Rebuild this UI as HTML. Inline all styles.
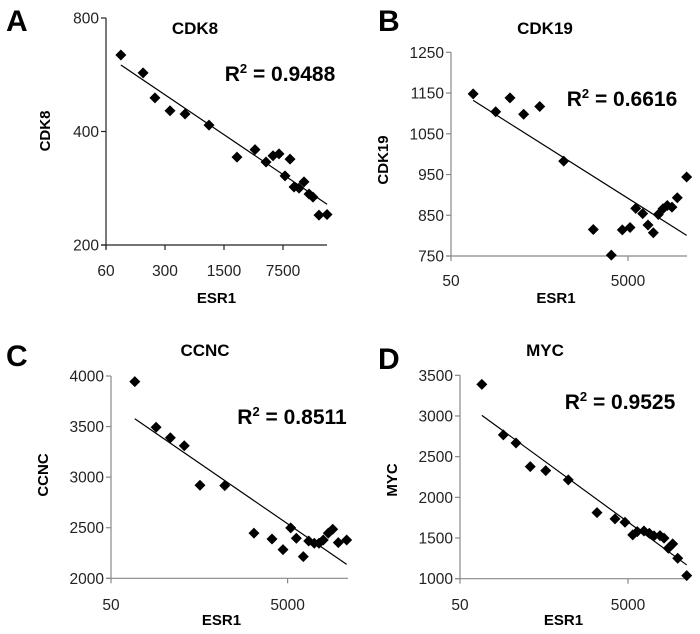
<!DOCTYPE html>
<html><head><meta charset="utf-8"><style>
html,body{margin:0;padding:0;background:#fff;}
svg{display:block;font-family:"Liberation Sans",Arial,sans-serif;}
</style></head><body>
<svg id="fig" width="700" height="634" viewBox="0 0 700 634" xmlns="http://www.w3.org/2000/svg"></svg>
<script>
// Panel A: CDK8 vs ESR1 (log-log)
const aX = [90,165,228,344,518,996,2137,3493,4719,5712,6725,9083,7924,10130,11610,13300,15250,16990,20010,24930];
const aY = [638,572,491,454,445,416,342,358,332,345,349,338,305,285,283,294,273,268,240,241];
const aXTicks = [60,300,1500,7500];
const aYTicks = [200,400,800];
// Panel B: CDK19 vs ESR1
const bX = [89,160,232,331,503,938,2027,3239,4314,5270,6110,7330,8410,9660,11000,12420,13900,15700,18030,23000];
const bY = [1148,1104,1138,1098,1117,983,815,752,814,820,867,854,826,807,852,866,874,870,893,944];
const bXTicks = [50,5000];
const bYTicks = [750,850,950,1050,1150,1250];
// Panel C: CCNC vs ESR1
const cX = [93,162,235,338,509,971,2080,3330,4435,5420,6280,7530,8670,10030,11340,12680,14450,16220,18750,23330];
const cY = [3944,3493,3389,3311,2920,2916,2446,2389,2283,2498,2396,2214,2369,2347,2347,2379,2446,2485,2353,2379];
const cXTicks = [50,5000];
const cYTicks = [2000,2500,3000,3500,4000];
// Panel D: MYC vs ESR1
const dX = [91,164,232,343,524,973,2138,3500,4603,5690,6450,7740,8960,10210,12020,13420,15100,17020,19540,25000];
const dY = [3389,2767,2668,2377,2328,2214,1812,1735,1694,1538,1579,1587,1559,1526,1529,1498,1375,1428,1252,1038];
const dXTicks = [50,5000];
const dYTicks = [1000,1500,2000,2500,3000,3500];

const NS = "http://www.w3.org/2000/svg";
const fig = document.getElementById('fig');
function mk(tag, attrs, parent, txt){
  const e = document.createElementNS(NS, tag);
  for (const k in attrs) e.setAttribute(k, attrs[k]);
  if (txt !== undefined) e.textContent = txt;
  (parent||fig).appendChild(e);
  return e;
}

function panel(p){
  const g = mk('g', {});
  
  
  const lx0 = Math.log10(p.xmin), lx1 = Math.log10(p.xmax);
  const sx = v => p.x0 + (Math.log10(v) - lx0) / (lx1 - lx0) * (p.x1 - p.x0);
  const ty = v => p.logY ? Math.log10(v) : v;
  const sy = v => p.yb + (ty(v) - ty(p.ymin)) / (ty(p.ymax) - ty(p.ymin)) * (p.yt - p.yb);
  const L = mk('text', {x:p.letterX, y:p.letterY, 'font-size':30, 'font-weight':'bold', fill:'#000'}, g, p.letter);
  
  
  const T = mk('text', {x:p.titleX, y:p.titleY, 'font-size':17, 'font-weight':'bold', 'text-anchor':'middle', fill:'#000'}, g, p.title);
  
  
  const ya = mk('line', {x1:p.x0, y1:p.yt, x2:p.x0, y2:p.yb + (p.id==='a'?4:0), stroke:p.axisColor, 'stroke-width':1.2}, g);
  
  
  const xa = mk('line', {x1:p.x0 - 5, y1:p.yb, x2:p.x1, y2:p.yb, stroke:p.axisColor, 'stroke-width':1.2}, g);
  
  
  p.yTicks.forEach(v => {
    const y = sy(v);
    const tk = mk('line', {x1:p.x0 - 5, y1:y, x2:p.x0, y2:y, stroke:p.axisColor, 'stroke-width':1.2}, g);
    
    
    const t = mk('text', {x:p.x0 - 7, y:y + 5.5, 'font-size':15.5, 'text-anchor':'end', fill:'#222'}, g, String(v));
    
    
  });
  p.xTicks.forEach(v => {
    const x = sx(v);
    const tk = mk('line', {x1:x, y1:p.yb, x2:x, y2:p.yb + 5, stroke:p.axisColor, 'stroke-width':1.2}, g);
    
    
    const t = mk('text', {x:x, y:p.xLabY, 'font-size':15.5, 'text-anchor':'middle', fill:'#222'}, g, String(v));
    
    
  });
  const xt = mk('text', {x:(p.x0 + p.x1) / 2 + p.xTitleDx, y:p.xTitleY, 'font-size':15, 'font-weight':'bold', 'text-anchor':'middle', fill:'#000'}, g, 'ESR1');
  
  
  const yt = mk('text', {x:0, y:0, 'font-size':15, 'font-weight':'bold', 'text-anchor':'middle', fill:'#000', transform:'translate(' + p.yTitleX + ',' + p.yTitleY + ') rotate(-90)'}, g, p.title);
  
  
  const lx = p.xs.map(v => Math.log10(v)), ly = p.ys.map(ty);
  const n = lx.length;
  const mx = lx.reduce((a,b)=>a+b,0)/n, my = ly.reduce((a,b)=>a+b,0)/n;
  let sxy = 0, sxx = 0;
  for (let i = 0; i < n; i++){ sxy += (lx[i]-mx)*(ly[i]-my); sxx += (lx[i]-mx)*(lx[i]-mx); }
  const slope = sxy / sxx, icpt = my - slope * mx;
  const xa0 = Math.min(...p.xs), xa1 = Math.max(...p.xs);
  const inv = t => p.logY ? Math.pow(10, t) : t;
  const fy = v => inv(icpt + slope * Math.log10(v));
  const tl = mk('line', {x1:sx(xa0), y1:sy(fy(xa0)), x2:sx(xa1), y2:sy(fy(xa1)), stroke:'#000', 'stroke-width':1.2}, g);
  
  
  for (let i = 0; i < n; i++){
    const cx = sx(p.xs[i]), cy = sy(p.ys[i]), r = 5.5;
    const d = mk('polygon', {points:[cx,cy-r, cx+r,cy, cx,cy+r, cx-r,cy].join(' '), fill:'#000'}, g);
    
    
  }
  const r2 = mk('text', {x:p.r2X, y:p.r2Y, 'font-size':21, 'font-weight':'bold', 'text-anchor':'middle', fill:'#000'}, g);
  
  
  mk('tspan', {}, r2, 'R');
  mk('tspan', {'font-size':13, dy:-8}, r2, '2');
  mk('tspan', {dy:8}, r2, ' = ' + p.r2);
}

panel({id:'a', letter:'A', letterX:6, letterY:31, title:'CDK8', titleX:195, titleY:34,
  x0:106, x1:327, xmin:60, xmax:60*Math.pow(5,221/59), yb:245, yt:18, ymin:200, ymax:800, logY:true,
  xs:aX, ys:aY, xTicks:aXTicks, yTicks:aYTicks, axisColor:'#222', xLabY:276, xTitleY:303, xTitleDx:0,
  yTitleX:50, yTitleY:131, r2X:280, r2Y:81, r2:'0.9488'});
panel({id:'b', letter:'B', letterX:378, letterY:31, title:'CDK19', titleX:545, titleY:34,
  x0:451, x1:687, xmin:50, xmax:50*Math.pow(10,236/88.5), yb:256, yt:52.3, ymin:750, ymax:1250, logY:false,
  xs:bX, ys:bY, xTicks:bXTicks, yTicks:bYTicks, axisColor:'#888', xLabY:286, xTitleY:303, xTitleDx:-13,
  yTitleX:388, yTitleY:160, r2X:622, r2Y:106, r2:'0.6616'});
panel({id:'c', letter:'C', letterX:6, letterY:366, title:'CCNC', titleX:205, titleY:356,
  x0:111, x1:348, xmin:50, xmax:50*Math.pow(10,237/88.3), yb:578.3, yt:376, ymin:2000, ymax:4000, logY:false,
  xs:cX, ys:cY, xTicks:cXTicks, yTicks:cYTicks, axisColor:'#888', xLabY:610, xTitleY:625, xTitleDx:-8,
  yTitleX:48, yTitleY:475, r2X:292, r2Y:424, r2:'0.8511'});
panel({id:'d', letter:'D', letterX:378, letterY:369, title:'MYC', titleX:545, titleY:356,
  x0:460, x1:687, xmin:50, xmax:50*Math.pow(10,227/84), yb:578.7, yt:375.3, ymin:1000, ymax:3500, logY:false,
  xs:dX, ys:dY, xTicks:dXTicks, yTicks:dYTicks, axisColor:'#888', xLabY:610, xTitleY:625, xTitleDx:-10,
  yTitleX:397, yTitleY:480, r2X:620, r2Y:409, r2:'0.9525'});
</script>
</body></html>
